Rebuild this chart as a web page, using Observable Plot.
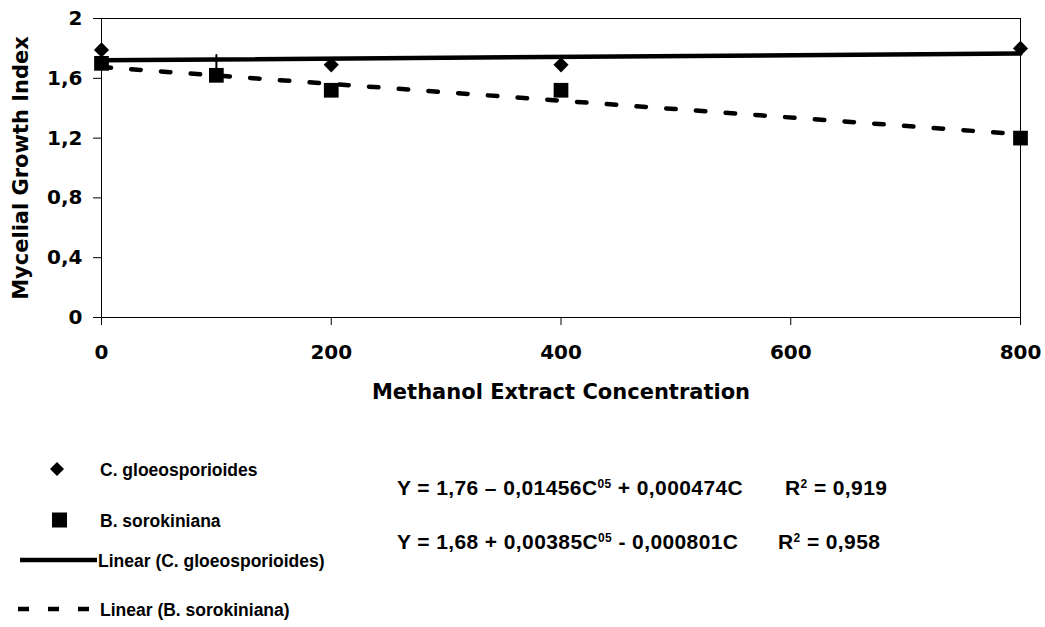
<!DOCTYPE html>
<html>
<head>
<meta charset="utf-8">
<script src="https://cdn.jsdelivr.net/npm/d3@7"></script>
<script src="https://cdn.jsdelivr.net/npm/@observablehq/plot@0.6"></script>
<style>
  html, body { margin: 0; padding: 0; background: #fff; }
  #wrap { position: relative; width: 1045px; height: 627px; overflow: hidden; background: #fff; }
  #chart { position: absolute; left: 0; top: 0; }
  #overlay { position: absolute; left: 0; top: 0; }
</style>
</head>
<body>
<div id="wrap">
  <div id="chart"></div>
  <svg id="overlay" width="1045" height="627"></svg>
</div>
<script>
// ---- data ----
const concentrations = [0, 100, 200, 400, 800];
const gloeosporioides = [1.79, null, 1.69, 1.69, 1.80];
const sorokiniana = [1.70, 1.62, 1.52, 1.52, 1.20];

const trendX = [0, 800];
const trendGloeosporioides = [1.72, 1.766];
const trendSorokiniana = [1.675, 1.225];

const errorBarX = [100];
const errorBarLow = [1.62];
const errorBarHigh = [1.752];

const xTicks = [0, 200, 400, 600, 800];
const yTicks = [0, 0.4, 0.8, 1.2, 1.6, 2];

const xTitle = "Methanol Extract Concentration";
const yTitle = "Mycelial Growth Index";

const seriesNames = ["C. gloeosporioides", "B. sorokiniana"];
const trendNames = ["Linear (C. gloeosporioides)", "Linear (B. sorokiniana)"];

const equationParts = [
  ["Y = 1,76 – 0,01456C", "05", " + 0,000474C"],
  ["Y = 1,68 + 0,00385C", "05", " - 0,000801C"]
];
const r2Values = ["0,919", "0,958"];

// ---- tables built from the arrays ----
const gRows = concentrations.map((c, i) => ({c, v: gloeosporioides[i]})).filter(d => d.v != null);
const sRows = concentrations.map((c, i) => ({c, v: sorokiniana[i]}));
const trendRows = trendX.map((c, i) => ({c, g: trendGloeosporioides[i], s: trendSorokiniana[i]}));
const errRows = errorBarX.map((c, i) => ({c, lo: errorBarLow[i], hi: errorBarHigh[i]}));

const fmt = d => String(d).replace(".", ",");

const chart = Plot.plot({
  width: 1045,
  height: 420,
  marginLeft: 101,
  marginRight: 25,
  marginTop: 18,
  marginBottom: 103,
  x: {domain: [0, 800]},
  y: {domain: [0, 2]},
  style: {
    fontFamily: "'DejaVu Sans', sans-serif",
    fontWeight: "bold",
    fontSize: "20px",
    color: "#000",
    background: "#fff",
    overflow: "visible"
  },
  marks: [
    Plot.frame({stroke: "#000", strokeWidth: 1}),
    Plot.axisX({ticks: xTicks, tickSize: 8, tickPadding: 19, label: null, tickFormat: fmt, fontSize: 20, fontWeight: "bold"}),
    Plot.axisY({ticks: yTicks, tickSize: 8, tickPadding: 11, label: null, tickFormat: fmt, fontSize: 20, fontWeight: "bold"}),
    Plot.ruleX(errRows, {x: "c", y1: "lo", y2: "hi", stroke: "#000", strokeWidth: 2, strokeLinecap: "round"}),
    Plot.dot(gRows, {x: "c", y: "v", symbol: "diamond2", r: 6.8, fill: "#000", stroke: "none"}),
    Plot.dot(sRows, {x: "c", y: "v", symbol: "square", r: 8.3, fill: "#000", stroke: "none"}),
    Plot.line(trendRows, {x: "c", y: "g", stroke: "#000", strokeWidth: 4.5}),
    Plot.line(trendRows, {x: "c", y: "s", stroke: "#000", strokeWidth: 4.5, strokeDasharray: "9.5,20.3"}),
    Plot.text([xTitle], {frameAnchor: "bottom", textAnchor: "middle", dy: 81, fontSize: 21, fontWeight: "bold", fill: "#000"}),
    Plot.text([yTitle], {frameAnchor: "left", textAnchor: "middle", rotate: -90, dx: -80, fontSize: 21, fontWeight: "bold", fill: "#000"})
  ]
});
document.getElementById("chart").appendChild(chart);

// ---- legend and equations (below the plot) ----
const ov = d3.select("#overlay");
const legFont = "'Liberation Sans', Arial, sans-serif";

const legendY = [469, 520, 560, 609];
// diamond swatch
ov.append("path")
  .attr("d", d3.symbol(d3.symbolDiamond2, Math.PI * 6.3 * 6.3)())
  .attr("transform", `translate(57,${legendY[0]})`).attr("fill", "#000");
// square swatch
ov.append("rect").attr("x", 52).attr("y", legendY[1] - 7.5).attr("width", 15).attr("height", 15).attr("fill", "#000");
// solid swatch
ov.append("line").attr("x1", 20).attr("x2", 97).attr("y1", legendY[2]).attr("y2", legendY[2])
  .attr("stroke", "#000").attr("stroke-width", 4.5);
// dashed swatch
ov.append("line").attr("x1", 18).attr("x2", 90).attr("y1", legendY[3]).attr("y2", legendY[3])
  .attr("stroke", "#000").attr("stroke-width", 4.5).attr("stroke-dasharray", "11,19");

const legLabels = [seriesNames[0], seriesNames[1], trendNames[0], trendNames[1]];
const legX = [100, 100, 98, 100];
legLabels.forEach((t, i) => {
  ov.append("text").attr("x", legX[i]).attr("y", legendY[i] + 6.5)
    .attr("font-family", legFont).attr("font-weight", "bold").attr("font-size", 17.5)
    .attr("fill", "#000").text(t);
});

const eqY = [495, 549];
const r2X = [785, 778];
equationParts.forEach((parts, i) => {
  const t = ov.append("text").attr("x", 397).attr("y", eqY[i])
    .attr("font-family", legFont).attr("font-weight", "bold").attr("font-size", 21)
    .attr("letter-spacing", 0.4).attr("fill", "#000");
  t.append("tspan").text(parts[0]);
  t.append("tspan").attr("font-size", 12).attr("dy", -7).text(parts[1]);
  t.append("tspan").attr("dy", 7).text(parts[2]);

  const r = ov.append("text").attr("x", r2X[i]).attr("y", eqY[i])
    .attr("font-family", legFont).attr("font-weight", "bold").attr("font-size", 21)
    .attr("letter-spacing", 0.4).attr("fill", "#000");
  r.append("tspan").text("R");
  r.append("tspan").attr("font-size", 12).attr("dy", -7).text("2");
  r.append("tspan").attr("dy", 7).text(" = " + r2Values[i]);
});
</script>
</body>
</html>
